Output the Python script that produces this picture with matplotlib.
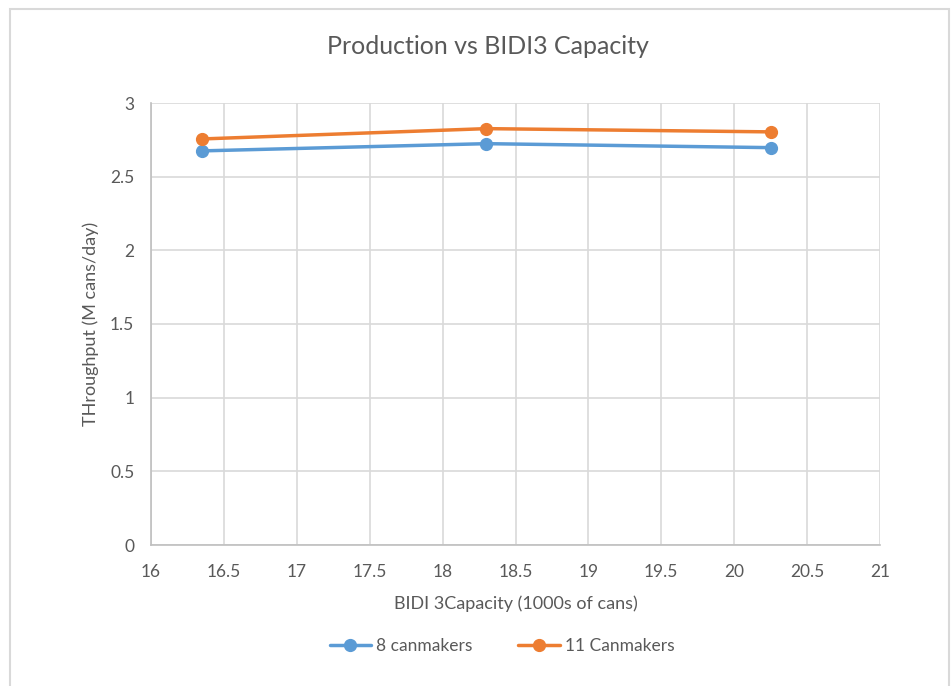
import matplotlib
matplotlib.use("Agg")
import matplotlib.pyplot as plt
from matplotlib.patches import Rectangle

plt.rcParams['font.family'] = ['Lato', 'DejaVu Sans']

# BIDI3 capacity (1000s of cans) and daily throughput (M cans/day)
capacity = [16.35, 18.30, 20.25]
throughput_8 = [2.675, 2.724, 2.697]
throughput_11 = [2.756, 2.826, 2.804]
series_names = ["8 canmakers", "11 Canmakers"]
x_ticks = [16, 16.5, 17, 17.5, 18, 18.5, 19, 19.5, 20, 20.5, 21]
y_ticks = [0, 0.5, 1, 1.5, 2, 2.5, 3]

text_col = "#595959"
grid_col = "#d9d9d9"
blue = "#5b9bd5"
orange = "#ed7d31"

fig = plt.figure(figsize=(9.52, 6.86), dpi=100)
# chart frame (open at the bottom edge of the canvas)
fig.patches.append(Rectangle((10 / 952, -0.05), 939 / 952, 1.05 - 9 / 686,
                             transform=fig.transFigure, fill=False,
                             edgecolor="#d9d9d9", linewidth=1.5))

ax = fig.add_axes([151 / 952, 1 - 545 / 686, 729 / 952, 442 / 686])
ax.plot(capacity, throughput_8, color=blue, lw=2.5, marker="o", ms=8.5,
        label=series_names[0], solid_capstyle="round")
ax.plot(capacity, throughput_11, color=orange, lw=2.5, marker="o", ms=8.5,
        label=series_names[1], solid_capstyle="round")

ax.set_xlim(16, 21)
ax.set_ylim(0, 3)
ax.set_xticks(x_ticks)
ax.set_xticklabels([f"{v:g}" for v in x_ticks])
ax.set_yticks(y_ticks)
ax.set_yticklabels([f"{v:g}" for v in y_ticks])
ax.grid(True, color=grid_col, lw=1.2)
ax.set_axisbelow(True)
for side in ["top", "right"]:
    ax.spines[side].set_visible(False)
for side in ["left", "bottom"]:
    ax.spines[side].set_color("#bfbfbf")
    ax.spines[side].set_linewidth(1.2)
ax.tick_params(length=0, colors=text_col, labelsize=12.5)
ax.tick_params(axis="x", pad=14)
ax.tick_params(axis="y", pad=12)

ax.set_xlabel("BIDI 3Capacity (1000s of cans)", color=text_col, fontsize=13, labelpad=11)
ax.set_ylabel("THroughput (M cans/day)", color=text_col, fontsize=13, labelpad=8)

fig.text(488 / 952, 1 - 46 / 686, "Production vs BIDI3 Capacity",
         ha="center", va="center", color=text_col, fontsize=18)

fig.legend(loc="center", bbox_to_anchor=(502 / 952, 1 - 646 / 686), ncol=2,
           frameon=False, fontsize=12.5, labelcolor=text_col,
           handlelength=2.4, columnspacing=2.6, handletextpad=0.3)

fig.savefig("out.png", dpi=100, facecolor="white")
